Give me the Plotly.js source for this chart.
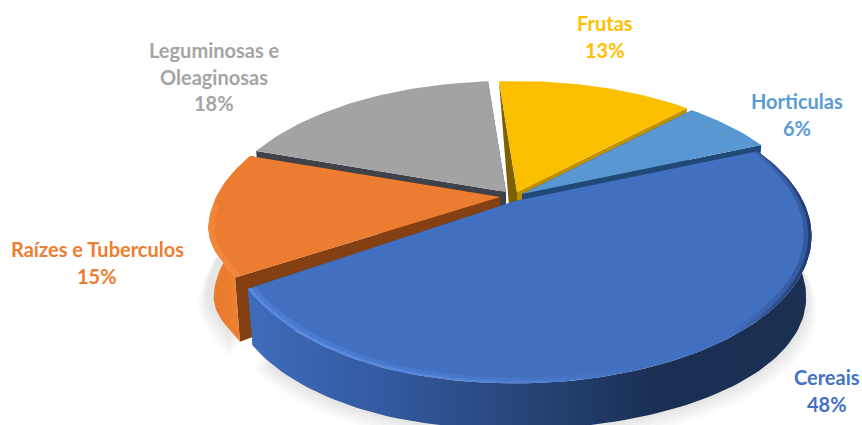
<!DOCTYPE html>
<html><head><meta charset="utf-8">
<script src="https://cdn.plot.ly/plotly-3.0.1.min.js"></script>
<style>html,body{margin:0;padding:0;background:#fff}#c{width:862px;height:425px}</style>
</head><body><div id="c"></div><script>
const categories = ["Cereais","Raízes e Tuberculos","Leguminosas e Oleaginosas","Frutas","Horticulas"];
const values = [48,15,18,13,6];
const labelLines = [["Cereais"],["Raízes e Tuberculos"],["Leguminosas e","Oleaginosas"],["Frutas"],["Horticulas"]];
const labelColors = ["#4472c4","#ed7d31","#a5a5a5","#ffc000","#5b9bd5"];

const topColors = ["#4270c0","#ec7c30","#a3a3a3","#fcbf00","#5997d3"];
const wallColors = ["#2a4b84","#843f12","#3f4248","#7f6000","#1f4a78"];
const wallEndColors = ["#2a4b84","#843f12","#3f4248","#bf9000","#1f4a78"];
const apexX = [515,500,506,517,522];
const apexY = [201,197,192,192,194];
const radii = [1,0.985,0.985,0.985,0.985];
const labelX = [827,97,214,605,797];
const labelY = [377,249,50,23,101];

const START=23, K=0.238, A=288, B=139, CONV=0.018;
const clamp01=x=>Math.max(0,Math.min(1,x));
function P(i,deg,r,drop){
  const phi=(START-deg)*Math.PI/180;
  const d=deg+5.5*Math.sin(phi/2);
  const t=d*Math.PI/180,u=r*Math.cos(t),v=r*Math.sin(t),w=1+K*v;
  const s=1-CONV*drop;
  let x=apexX[i]+A*u/w*s, y=apexY[i]-B*v/w+drop*(46+16*u*u+(i===1?8:0));
  if(i===0 && r>0){ const f=Math.pow(clamp01((-u-0.3)/0.7),1.5); x+=7*f; y-=10*f; }
  if(i===1 && r>0){ const g=clamp01((-v-0.2)/0.3); x+=2*g; y-=12*g; }
  return [x,y];
}
function arc(i,a0,a1,r,drop){
  const pts=[],n=Math.max(6,Math.ceil(Math.abs(a1-a0)/1.5));
  for(let j=0;j<=n;j++) pts.push(P(i,a0+(a1-a0)*j/n,r,drop));
  return pts;
}
function poly(pts,style){
  const xs=pts.map(p=>p[0]),ys=pts.map(p=>p[1]);
  xs.push(xs[0]);ys.push(ys[0]);
  return Object.assign({type:"scatter",mode:"lines",x:xs,y:ys,fill:"toself",line:{width:0},hoverinfo:"skip",showlegend:false},style);
}
const total=values.reduce((a,b)=>a+b,0);
const spans=[];let cur=START;
values.forEach(v=>{const e=cur-v/total*360;spans.push([cur,e]);cur=e;});

const traces=[];
[5,4,3,2,1].forEach(n=>{
  const s=arc(0,spans[0][0]-20,spans[0][1]+4,1+n*0.007,1+n*0.03);
  traces.push(poly(s,{fillcolor:"rgba(0,0,0,0.02)"}));
  const o=arc(1,spans[1][0]+2,spans[1][1],1+n*0.007,0.9+n*0.03);
  traces.push(poly(o,{fillcolor:"rgba(0,0,0,0.018)"}));
});
function slice(i){
  const [a0,a1]=spans[i],r=radii[i];
  const apex=[apexX[i],apexY[i]],apexB=[apexX[i],apexY[i]+46];
  const tA=P(i,a0,r,0),tAb=P(i,a0,r,1),tB=P(i,a1,r,0),tBb=P(i,a1,r,1);
  if(i===3){
    traces.push(poly([tB,apex,apexB,tBb],{fillcolor:wallEndColors[i]}));
    traces.push(poly([tA,apex,[apex[0],apex[1]+14],[apex[0]-8,apex[1]+14]],{fillcolor:wallColors[i]}));
  } else {
    traces.push(poly([tA,apex,apexB,tAb],{fillcolor:wallEndColors[i]}));
    traces.push(poly([tB,apex,apexB,tBb],{fillcolor:wallColors[i]}));
  }
  const outer=arc(i,a0,a1,r,0).concat(arc(i,a1,a0,r,1));
  const grad = i===0
    ? [[0,"#3f6cbc"],[0.25,"#33599f"],[0.5,"#264477"],[0.72,"#1a2f54"],[1,"#1b2f52"]]
    : [[0,"#e9792e"],[1,"#f08432"]];
  if(i<=1) traces.push(poly(outer,{fillgradient:{type:"horizontal",colorscale:grad}}));
  traces.push(poly([apex].concat(arc(i,a0,a1,r,0)),{fillcolor:topColors[i]}));
  if(i===0){
    const soft=[[0,"rgba(95,150,240,0.3)"],[0.42,"rgba(95,150,240,0.2)"],[0.68,"rgba(95,150,240,0)"],[0.85,"rgba(15,30,70,0)"],[1,"rgba(15,30,70,0.3)"]];
    const hard=[[0,"rgba(100,155,245,0.5)"],[0.42,"rgba(100,155,245,0.35)"],[0.66,"rgba(100,155,245,0)"],[0.86,"rgba(15,30,70,0)"],[1,"rgba(15,30,70,0.5)"]];
    traces.push(poly(arc(0,a0,a1,1,0).concat(arc(0,a1,a0,0.975,0)),{fillgradient:{type:"horizontal",colorscale:soft}}));
    traces.push(poly(arc(0,a0,a1,1,0).concat(arc(0,a1,a0,0.99,0)),{fillgradient:{type:"horizontal",colorscale:hard}}));
  }
  if(i===1){
    const mid=a0+(a1-a0)*0.6;
    traces.push(poly(arc(1,a0,mid,r,0).concat(arc(1,mid,a0,r*0.98,0)),{fillcolor:"rgba(255,150,70,0.4)"}));
  }
}
[2,3,4,1,0].forEach(slice);

const annotations=[];
const LINE=26.5;
labelLines.forEach((lines,i)=>{
  lines.concat([values[i]+"%"]).forEach((t,j)=>{
    annotations.push({x:labelX[i],y:labelY[i]+j*LINE,xref:"x",yref:"y",text:t,showarrow:false,
      xanchor:"center",yanchor:"middle",font:{family:"Lato, 'Open Sans', sans-serif",size:20,color:labelColors[i],weight:700}});
  });
});
const hidden={visible:false,fixedrange:true};
Plotly.newPlot("c",traces,{
  width:862,height:425,margin:{l:0,r:0,t:0,b:0},paper_bgcolor:"#fff",plot_bgcolor:"#fff",
  showlegend:false,annotations,
  xaxis:Object.assign({range:[0,862]},hidden),
  yaxis:Object.assign({range:[425,0]},hidden)
},{displayModeBar:false,staticPlot:true});
</script></body></html>
